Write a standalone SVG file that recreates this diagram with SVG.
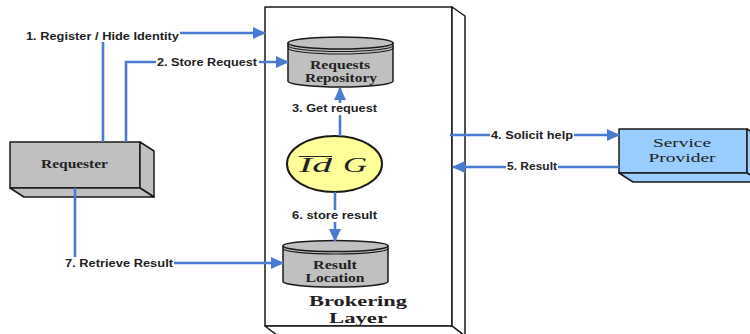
<svg xmlns="http://www.w3.org/2000/svg" width="750" height="334" viewBox="0 0 750 334">
<style>
.box{stroke:#1a1a1a;stroke-width:1.5;stroke-linejoin:round}
.gray{fill:#c0c0c0}
.blue{fill:#99ccff}
.white{fill:#ffffff}
.ser{font-family:"Liberation Serif","Times New Roman",serif;fill:#222}
.sb{font-weight:bold}
.lbl{font-family:"Liberation Sans",Arial,sans-serif;font-size:10px;font-weight:bold;fill:#222}
.bg{fill:#ffffff}
.conn{fill:none;stroke:#4a7bd0;stroke-width:2.6}
.ring{fill:none;stroke:#1a1a1a;stroke-width:1.2}
</style>
<defs>
<marker id="ah" markerUnits="userSpaceOnUse" markerWidth="14" markerHeight="12" refX="12" refY="6" orient="auto">
<path d="M0,0 L13,6 L0,12 Z" fill="#4a7bd0"/>
</marker>
</defs>
<rect width="750" height="334" fill="#ffffff"/>

<g id="brokering-layer">
<rect class="box white" x="265" y="7" width="187" height="319"/>
<polygon class="box white" points="452,7 465,16 465,336 452,326"/>
<polygon class="box white" points="265,326 452,326 465,336 278,336"/>
<text class="ser sb" x="358" y="305.5" font-size="15.5" text-anchor="middle" textLength="98" lengthAdjust="spacingAndGlyphs">Brokering</text>
<text class="ser sb" x="358" y="323" font-size="15.5" text-anchor="middle" textLength="58" lengthAdjust="spacingAndGlyphs">Layer</text>
</g>

<g id="requester">
<rect class="box gray" x="10" y="142" width="130" height="46"/>
<polygon class="box gray" points="140,142 154,151 154,197 140,188"/>
<polygon class="box gray" points="10,188 140,188 154,197 24,197"/>
<text class="ser sb" x="74.5" y="168" font-size="11.5" text-anchor="middle" textLength="67" lengthAdjust="spacingAndGlyphs">Requester</text>
</g>

<g id="service-provider">
<rect class="box blue" x="619" y="129" width="128" height="44"/>
<polygon class="box blue" points="747,129 761,138 761,182 747,173"/>
<polygon class="box blue" points="619,173 747,173 761,182 633,182"/>
<text class="ser" x="682" y="147" font-size="13.5" text-anchor="middle" textLength="58" lengthAdjust="spacingAndGlyphs">Service</text>
<text class="ser" x="682" y="162" font-size="13.5" text-anchor="middle" textLength="67" lengthAdjust="spacingAndGlyphs">Provider</text>
</g>

<g id="requests-repository">
<path class="box gray" d="M288,43 V81 A52.5,6 0 0 0 393,81 V43 Z"/>
<ellipse class="box gray" cx="340.5" cy="43" rx="52.5" ry="6"/>
<path class="ring" d="M288,45.5 A52.5,6 0 0 0 393,45.5"/>
<path class="ring" d="M288,48 A52.5,6 0 0 0 393,48"/>
<text class="ser sb" x="340" y="69" font-size="11.5" text-anchor="middle" textLength="60" lengthAdjust="spacingAndGlyphs">Requests</text>
<text class="ser sb" x="341" y="82" font-size="11.5" text-anchor="middle" textLength="72" lengthAdjust="spacingAndGlyphs">Repository</text>
</g>

<g id="idg">
<ellipse cx="334.5" cy="164" rx="47.5" ry="28" fill="#ffff99" stroke="#1a1a1a" stroke-width="2"/>
<line x1="299" y1="156.5" x2="332" y2="156.5" stroke="#222" stroke-width="1"/>
<text class="ser" x="299" y="172" font-size="21" font-style="italic" textLength="33" lengthAdjust="spacingAndGlyphs">Id</text>
<text class="ser" x="343" y="172" font-size="21" font-style="italic" textLength="24" lengthAdjust="spacingAndGlyphs">G</text>
</g>

<g id="result-location">
<path class="box gray" d="M283,246 V281.5 A52.5,5.5 0 0 0 388,281.5 V246 Z"/>
<ellipse class="box gray" cx="335.5" cy="246" rx="52.5" ry="5.5"/>
<path class="ring" d="M283,248.5 A52.5,5.5 0 0 0 388,248.5"/>
<text class="ser sb" x="335" y="269" font-size="11.5" text-anchor="middle" textLength="44" lengthAdjust="spacingAndGlyphs">Result</text>
<text class="ser sb" x="335" y="282" font-size="11.5" text-anchor="middle" textLength="59" lengthAdjust="spacingAndGlyphs">Location</text>
</g>

<g id="connectors">
<path class="conn" d="M103,142 V33 H265" marker-end="url(#ah)"/>
<rect class="bg" x="25" y="30" width="155" height="12"/>
<text class="lbl" x="26" y="39.5" textLength="153" lengthAdjust="spacingAndGlyphs">1. Register / Hide Identity</text>

<path class="conn" d="M126,142 V62 H288" marker-end="url(#ah)"/>
<rect class="bg" x="156" y="57" width="103" height="11"/>
<text class="lbl" x="157" y="65.5" textLength="100" lengthAdjust="spacingAndGlyphs">2. Store Request</text>

<path class="conn" d="M340,136 V88" marker-end="url(#ah)"/>
<rect class="bg" x="291" y="103" width="88" height="12"/>
<text class="lbl" x="292" y="112" textLength="85" lengthAdjust="spacingAndGlyphs">3. Get request</text>

<path class="conn" d="M450,135 H619" marker-end="url(#ah)"/>
<rect class="bg" x="490" y="130" width="84" height="11"/>
<text class="lbl" x="491" y="138.5" textLength="82" lengthAdjust="spacingAndGlyphs">4. Solicit help</text>

<path class="conn" d="M619,167 H453" marker-end="url(#ah)"/>
<rect class="bg" x="506" y="162" width="52" height="11"/>
<text class="lbl" x="507" y="170" font-weight="normal" textLength="50" lengthAdjust="spacingAndGlyphs">5. Result</text>

<path class="conn" d="M335,192 V241" marker-end="url(#ah)"/>
<rect class="bg" x="291" y="210" width="88" height="12"/>
<text class="lbl" x="292" y="219" textLength="85" lengthAdjust="spacingAndGlyphs">6. store result</text>

<path class="conn" d="M75,188 V263 H283" marker-end="url(#ah)"/>
<rect class="bg" x="64" y="257" width="110" height="12"/>
<text class="lbl" x="65" y="266.5" textLength="108" lengthAdjust="spacingAndGlyphs">7. Retrieve Result</text>
</g>
</svg>
